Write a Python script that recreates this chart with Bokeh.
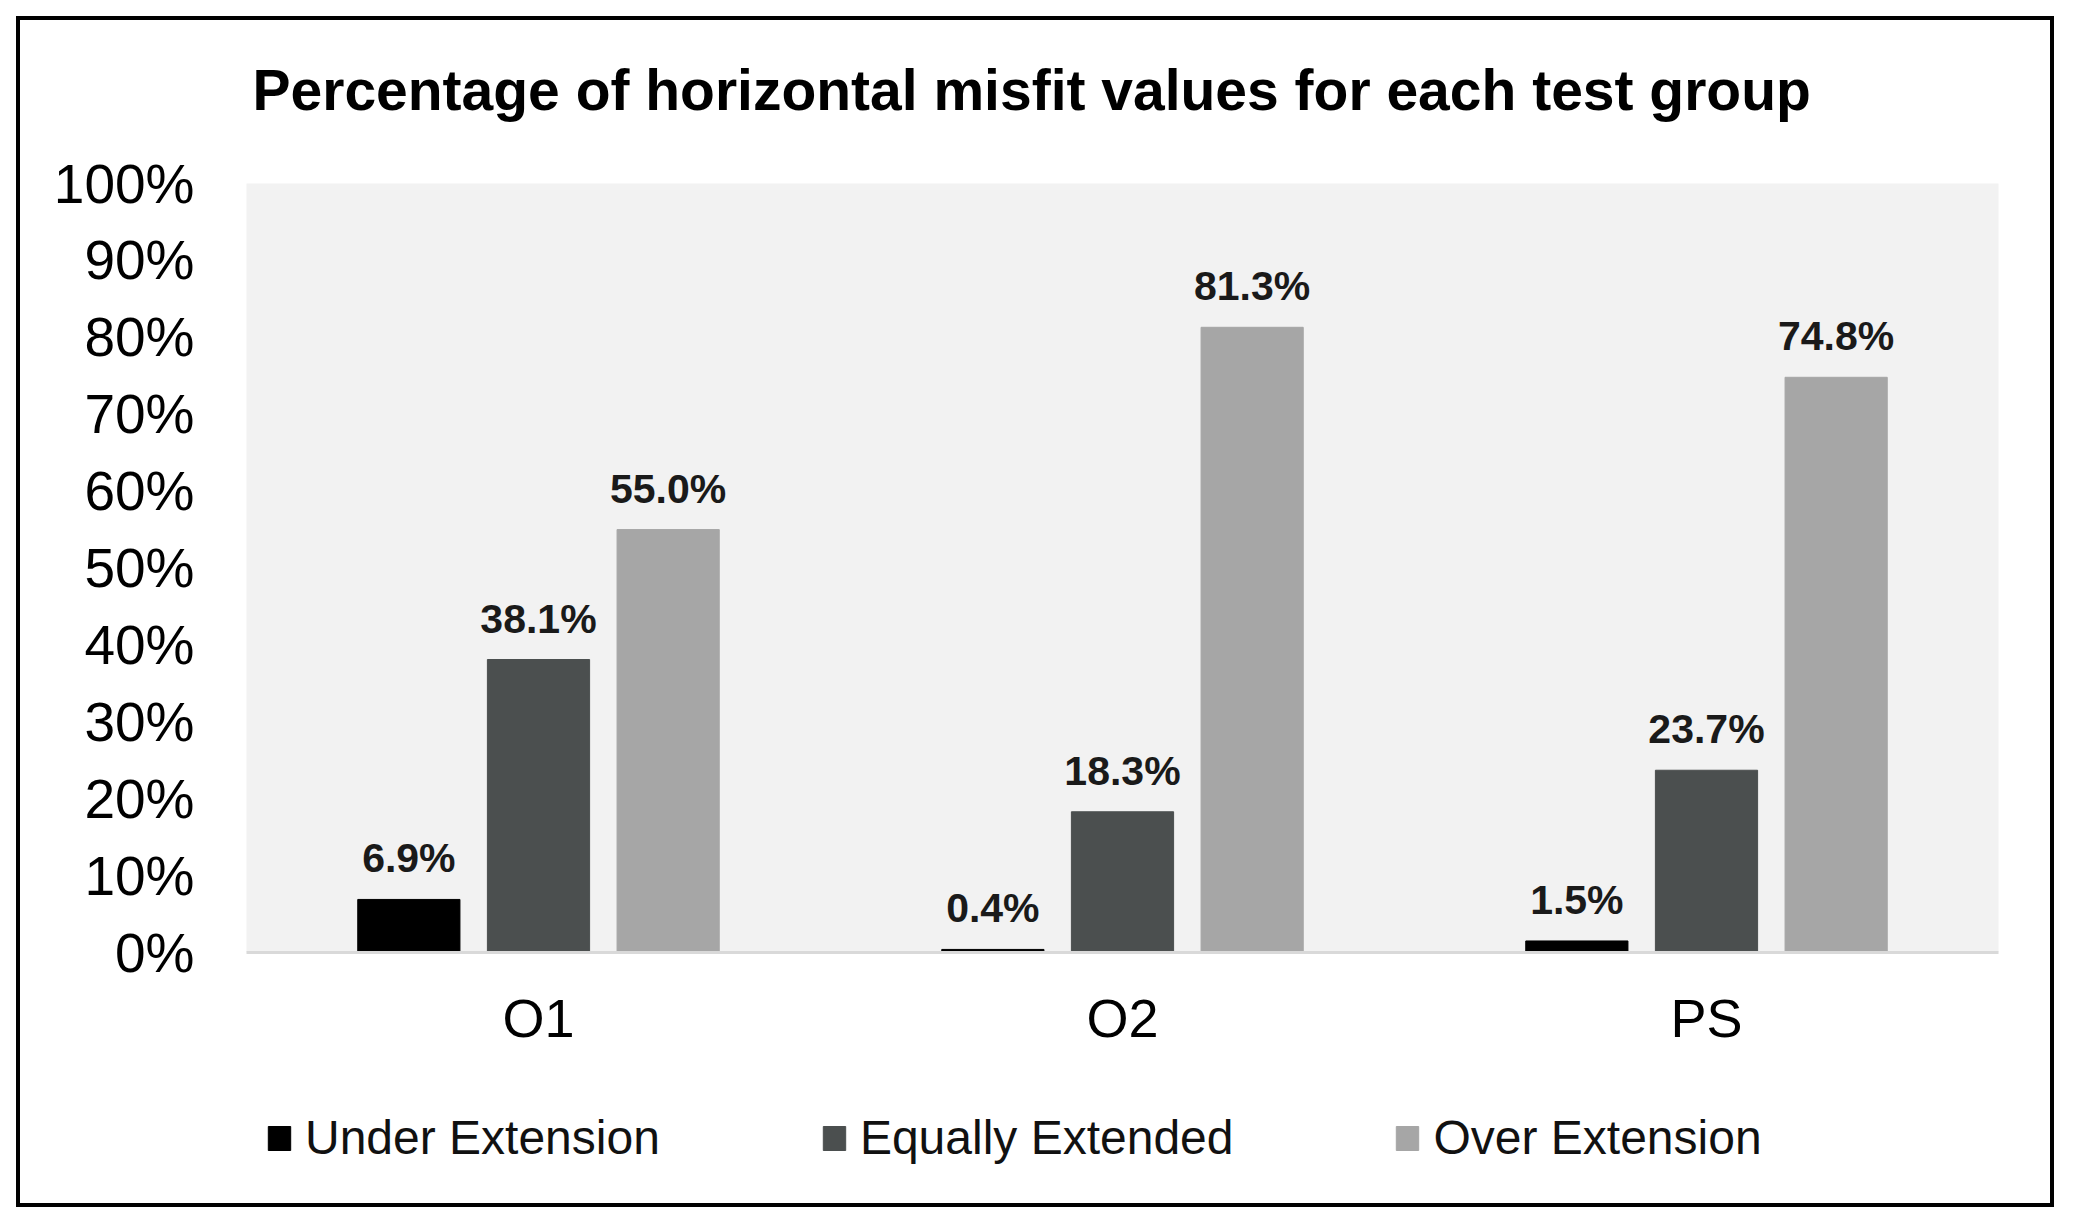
from bokeh.plotting import figure
from bokeh.layouts import column
from bokeh.models import (ColumnDataSource, FactorRange, Range1d, FixedTicker,
                          PrintfTickFormatter, LabelSet, Legend, LegendItem, Title)
from bokeh.core.properties import value
from bokeh.transform import dodge
from bokeh.embed import file_html
from bokeh.resources import INLINE

# ---- data ----
groups = ["O1", "O2", "PS"]
under_extension = [6.9, 0.4, 1.5]
equally_extended = [38.1, 18.3, 23.7]
over_extension = [55.0, 81.3, 74.8]
series_names = ["Under Extension", "Equally Extended", "Over Extension"]
series_colors = ["#000000", "#4b4f4f", "#a6a6a6"]
y_ticks = [0, 10, 20, 30, 40, 50, 60, 70, 80, 90, 100]
title_text = "Percentage of horizontal misfit values for each test group"

FONT = "Liberation Sans"

# ---- main chart ----
p = figure(width=2030, height=1060, x_range=FactorRange(*groups), y_range=(0, 100),
           output_backend="svg", toolbar_location=None,
           min_border_left=226, min_border_right=52, min_border_top=163, min_border_bottom=128)

p.background_fill_color = "#f2f2f2"
p.border_fill_color = "white"
p.outline_line_color = None
p.xgrid.visible = False
p.ygrid.visible = False

# title (spacer nearest the frame, then the title itself)
spacer = Title(text=" ", text_font_size="1px", standoff=30)
p.add_layout(spacer, "above")
main_title = Title(text=title_text, text_font=FONT, text_font_size="57px",
                   text_font_style="bold", text_color="#000000",
                   align="left", offset=6, standoff=58)
p.add_layout(main_title, "above")

# ---- legend strip ----
p2 = figure(width=2030, height=123, x_range=p.x_range, y_range=Range1d(1000, 1001),
            output_backend="svg", toolbar_location=None,
            x_axis_type=None, y_axis_type=None,
            min_border_left=0, min_border_right=0, min_border_top=0, min_border_bottom=0)
p2.outline_line_color = None
p2.background_fill_color = "white"
p2.border_fill_color = "white"

series_values = [under_extension, equally_extended, over_extension]
offsets = [-0.222, 0.0, 0.222]
legend_items = []
for name, vals, col, off in zip(series_names, series_values, series_colors, offsets):
    src = ColumnDataSource(dict(group=groups, val=vals,
                                lbl=[f"{v:.1f}%" for v in vals]))
    p.vbar(x=dodge("group", off, range=p.x_range), top="val", width=0.175,
           source=src, fill_color=col, line_color=col)
    labels = LabelSet(x=dodge("group", off, range=p.x_range), y="val", text="lbl",
                      source=src, y_offset=27, text_align="center",
                      text_baseline="alphabetic", text_font=value(FONT),
                      text_font_size="41px", text_font_style="bold",
                      text_color="#1a1a1a")
    p.add_layout(labels)
    # same series in the legend strip (outside its visible range) for the legend swatch
    r2 = p2.vbar(x=dodge("group", off, range=p.x_range), top="val", width=0.175,
                 source=src, fill_color=col, line_color=col)
    legend_items.append(LegendItem(label=name, renderers=[r2]))

# axes
p.yaxis.ticker = FixedTicker(ticks=y_ticks)
p.yaxis.formatter = PrintfTickFormatter(format="%d%%")
p.yaxis.axis_line_color = None
p.yaxis.major_tick_line_color = None
p.yaxis.minor_tick_line_color = None
p.yaxis.major_label_standoff = 46
p.yaxis.major_label_text_font = FONT
p.yaxis.major_label_text_font_size = "55px"
p.yaxis.major_label_text_color = "#000000"

p.xaxis.axis_line_color = "#d9d9d9"
p.xaxis.axis_line_width = 3
p.xaxis.major_tick_line_color = None
p.xaxis.minor_tick_line_color = None
p.xaxis.major_label_standoff = 29
p.xaxis.major_label_text_font = FONT
p.xaxis.major_label_text_font_size = "54px"
p.xaxis.major_label_text_color = "#000000"

legend = Legend(items=legend_items, orientation="horizontal", location=(19, 38),
                glyph_width=28, glyph_height=30, label_standoff=12, spacing=160,
                padding=0, margin=0, border_line_color=None, background_fill_alpha=0,
                label_text_font=FONT, label_text_font_size="48px",
                label_text_color="#111111")
p2.add_layout(legend)

layout = column(p, p2, spacing=0, margin=(20, 0, 0, 20),
                styles={"outline": "4px solid black"})

open("out.html", "w").write(file_html(layout, INLINE))
